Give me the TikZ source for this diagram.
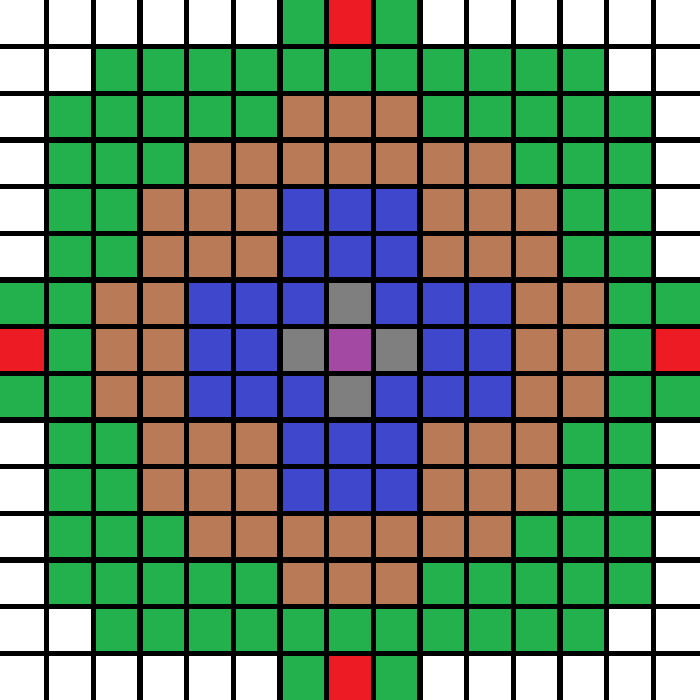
\documentclass[tikz,border=0pt]{standalone}
\definecolor{colW}{HTML}{FFFFFF}
\definecolor{colG}{HTML}{22B14C}
\definecolor{colR}{HTML}{ED1C24}
\definecolor{colN}{HTML}{B97A57}
\definecolor{colU}{HTML}{3F48CC}
\definecolor{colY}{HTML}{7F7F7F}
\definecolor{colP}{HTML}{A349A4}
\tikzset{gridline/.style={black,line width=3.1pt}}
\begin{document}
\begin{tikzpicture}
\useasboundingbox (0,0) rectangle (15,-15);
\foreach \row [count=\r from 0] in {
{W,W,W,W,W,W,G,R,G,W,W,W,W,W,W},
{W,W,G,G,G,G,G,G,G,G,G,G,G,W,W},
{W,G,G,G,G,G,N,N,N,G,G,G,G,G,W},
{W,G,G,G,N,N,N,N,N,N,N,G,G,G,W},
{W,G,G,N,N,N,U,U,U,N,N,N,G,G,W},
{W,G,G,N,N,N,U,U,U,N,N,N,G,G,W},
{G,G,N,N,U,U,U,Y,U,U,U,N,N,G,G},
{R,G,N,N,U,U,Y,P,Y,U,U,N,N,G,R},
{G,G,N,N,U,U,U,Y,U,U,U,N,N,G,G},
{W,G,G,N,N,N,U,U,U,N,N,N,G,G,W},
{W,G,G,N,N,N,U,U,U,N,N,N,G,G,W},
{W,G,G,G,N,N,N,N,N,N,N,G,G,G,W},
{W,G,G,G,G,G,N,N,N,G,G,G,G,G,W},
{W,W,G,G,G,G,G,G,G,G,G,G,G,W,W},
{W,W,W,W,W,W,G,R,G,W,W,W,W,W,W}}{
  \foreach \c [count=\x from 0] in \row {
    \fill[col\c] (\x,-\r) rectangle ++(1,-1);
  }
}
\foreach \i in {1,...,14}{
  \draw[gridline] (\i,0) -- (\i,-15);
  \draw[gridline] (0,-\i) -- (15,-\i);
}
\end{tikzpicture}
\end{document}
